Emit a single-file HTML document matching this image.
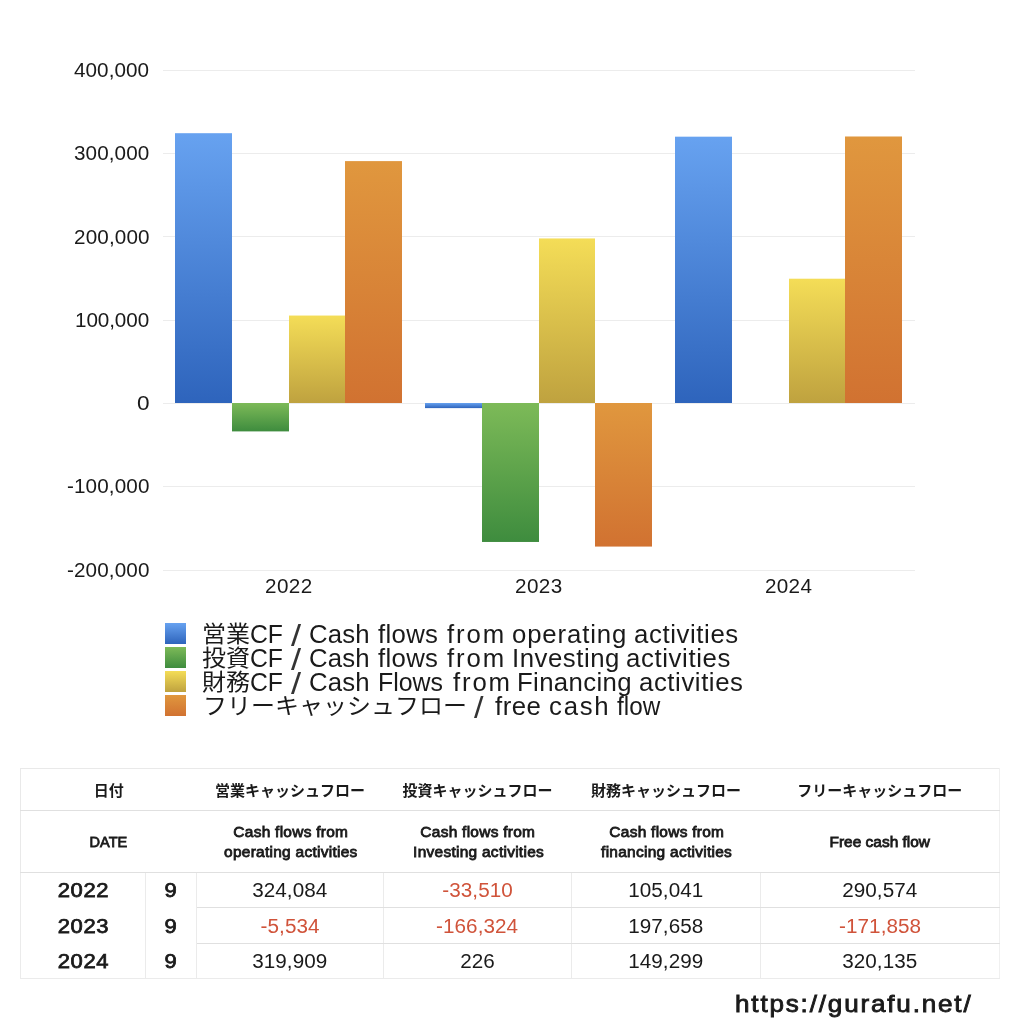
<!DOCTYPE html>
<html lang="ja">
<head>
<meta charset="utf-8">
<title>Cash Flow</title>
<style>
html,body{margin:0;padding:0;background:#fff;}
body{width:1024px;height:1024px;position:relative;overflow:hidden;font-family:"Liberation Sans","Noto Sans CJK JP",sans-serif;color:#1a1a1a;}
.t{position:absolute;white-space:nowrap;transform-origin:0 0;}
.ax{font-size:19.7px;line-height:24px;}
.lgL{font-size:25px;line-height:28px;}
.lgJ{font-size:22.8px;line-height:28px;}
.lgS{font-size:30px;line-height:28px;color:#333;}
.url{font-size:23.7px;line-height:28px;-webkit-text-stroke:0.85px #1a1a1a;}
.grid{position:absolute;left:163px;width:752px;height:1px;background:#ececec;}
.chart{position:absolute;left:0;top:0;width:1024px;height:620px;}
.b{background:linear-gradient(#67a2f0,#2e64bc);}
.g{background:linear-gradient(#7dba58,#3e8c3e);}
.y{background:linear-gradient(#f4dd57,#bfa23f);}
.o{background:linear-gradient(#e0973e,#d17231);}
.lg{position:absolute;left:165px;width:21px;height:21px;}
table{position:absolute;left:20px;top:768px;width:979px;border-collapse:collapse;table-layout:fixed;}
td,th{padding:0;text-align:center;vertical-align:middle;font-weight:normal;border:1px solid #e0e0e0;border-left-color:#ebebeb;border-right-color:#ebebeb;line-height:20px;}
td span,th span{display:inline-block;position:relative;white-space:nowrap;}
tr.h1 th{height:41px;font-size:15px;font-weight:bold;border-left:none;border-right:none;}
tr.h2 th{height:61px;font-size:15px;font-weight:bold;border-left:none;border-right:none;}
tr.h1 th:first-child,tr.h2 th:first-child{border-left:1px solid #e9e9e9;}
tr.h1 th:last-child,tr.h2 th:last-child{border-right:1px solid #f0f0f0;}
tr.d td:last-child{border-right-color:#f0f0f0;}
tr.h1 th{border-top-color:#e9e9e9;}
tr.d td{height:34px;font-size:19.7px;}
tr.d.r2 td{height:35px;}
tr.d td.yr{font-weight:bold;font-size:20px;border-top:none;border-bottom:none;}
tr.d:last-child td{border-bottom:1px solid #ebebeb;}
.hj{top:1px;}
.he{font-weight:normal;-webkit-text-stroke:0.8px #1a1a1a;transform:scaleX(1.03);letter-spacing:0.27px;margin-right:-0.27px;top:0px;left:0.6px;}
.hd{transform:scaleX(0.97);letter-spacing:0;margin-right:0;left:-0.5px;}
.hf{letter-spacing:0;margin-right:0;left:0;}
.n{transform:scaleX(1.05);letter-spacing:0.05px;margin-right:-0.05px;top:0px;}
.yb{font-weight:normal;-webkit-text-stroke:0.75px #1a1a1a;transform:scaleX(1.1);letter-spacing:0.6px;margin-right:-0.6px;top:0px;}
.neg{color:#d0533a;}
</style>
</head>
<body>
<div class="grid" style="top:70px"></div>
<div class="grid" style="top:153px"></div>
<div class="grid" style="top:236px"></div>
<div class="grid" style="top:320px"></div>
<div class="grid" style="top:403px"></div>
<div class="grid" style="top:486px"></div>
<div class="grid" style="top:570px"></div>

<span class="t ax" style="left:74.17px;top:58px;letter-spacing:0.05px;transform:scaleX(1.0500);">400,000</span>
<span class="t ax" style="left:73.91px;top:141px;letter-spacing:0.09px;transform:scaleX(1.0500);">300,000</span>
<span class="t ax" style="left:73.65px;top:225px;letter-spacing:0.13px;transform:scaleX(1.0500);">200,000</span>
<span class="t ax" style="left:75.02px;top:308px;letter-spacing:-0.09px;transform:scaleX(1.0500);">100,000</span>
<span class="t ax" style="left:136.74px;top:391px;transform:scaleX(1.1474);">0</span>
<span class="t ax" style="left:66.71px;top:474px;letter-spacing:0.11px;transform:scaleX(1.0500);">-100,000</span>
<span class="t ax" style="left:66.71px;top:558px;letter-spacing:0.11px;transform:scaleX(1.0500);">-200,000</span>

<svg class="chart" viewBox="0 0 1024 620" width="1024" height="620">
<defs>
<linearGradient id="gb" x1="0" y1="0" x2="0" y2="1"><stop offset="0" stop-color="#67a2f0"/><stop offset="1" stop-color="#2e64bc"/></linearGradient>
<linearGradient id="gg" x1="0" y1="0" x2="0" y2="1"><stop offset="0" stop-color="#7dba58"/><stop offset="1" stop-color="#3e8c3e"/></linearGradient>
<linearGradient id="gy" x1="0" y1="0" x2="0" y2="1"><stop offset="0" stop-color="#f4dd57"/><stop offset="1" stop-color="#bfa23f"/></linearGradient>
<linearGradient id="go" x1="0" y1="0" x2="0" y2="1"><stop offset="0" stop-color="#e0973e"/><stop offset="1" stop-color="#d17231"/></linearGradient>
</defs>
<rect x="175" y="133.2" width="57" height="269.8" fill="url(#gb)"/>
<rect x="232" y="403" width="57" height="28.4" fill="url(#gg)"/>
<rect x="289" y="315.55" width="56" height="87.45" fill="url(#gy)"/>
<rect x="345" y="161.1" width="57" height="241.9" fill="url(#go)"/>
<rect x="425" y="403" width="57" height="5.11" fill="url(#gb)"/>
<rect x="482" y="403" width="57" height="138.96" fill="url(#gg)"/>
<rect x="539" y="238.45" width="56" height="164.55" fill="url(#gy)"/>
<rect x="595" y="403" width="57" height="143.57" fill="url(#go)"/>
<rect x="675" y="136.68" width="57" height="266.32" fill="url(#gb)"/>
<rect x="789" y="278.71" width="56" height="124.29" fill="url(#gy)"/>
<rect x="845" y="136.49" width="57" height="266.51" fill="url(#go)"/>
</svg>

<span class="t ax" style="left:264.95px;top:574px;letter-spacing:0.38px;transform:scaleX(1.0500);">2022</span>
<span class="t ax" style="left:514.8px;top:574px;letter-spacing:0.38px;transform:scaleX(1.0500);">2023</span>
<span class="t ax" style="left:765.15px;top:574px;letter-spacing:0.3px;transform:scaleX(1.0500);">2024</span>

<div class="lg b" style="top:623px"></div>
<div class="lg g" style="top:647px"></div>
<div class="lg y" style="top:671px"></div>
<div class="lg o" style="top:695px"></div>
<div class="ll">
<span class="t lgJ" style="left:202px;top:620px;transform:scaleX(1.0526);">営業</span>
<span class="t lgL" style="left:249.86px;top:620px;transform:scaleX(0.9888);">CF</span>
<span class="t lgS" style="left:291.4px;top:622px;transform:scaleX(1.2121);">/</span>
<span class="t lgL" style="left:309.46px;top:620px;letter-spacing:0.11px;transform:scaleX(1.0300);">Cash</span>
<span class="t lgL" style="left:378.49px;top:620px;letter-spacing:0.32px;transform:scaleX(1.0300);">flows</span>
<span class="t lgL" style="left:447.24px;top:620px;letter-spacing:1.88px;transform:scaleX(1.0300);">from</span>
<span class="t lgL" style="left:512.22px;top:620px;letter-spacing:0.84px;transform:scaleX(1.0300);">operating</span>
<span class="t lgL" style="left:634.22px;top:620px;letter-spacing:0.59px;transform:scaleX(1.0300);">activities</span>
</div>
<div class="ll">
<span class="t lgJ" style="left:202px;top:644px;transform:scaleX(1.0526);">投資</span>
<span class="t lgL" style="left:249.86px;top:644px;transform:scaleX(0.9888);">CF</span>
<span class="t lgS" style="left:291.4px;top:646px;transform:scaleX(1.2121);">/</span>
<span class="t lgL" style="left:309.46px;top:644px;letter-spacing:0.11px;transform:scaleX(1.0300);">Cash</span>
<span class="t lgL" style="left:378.49px;top:644px;letter-spacing:0.32px;transform:scaleX(1.0300);">flows</span>
<span class="t lgL" style="left:447.24px;top:644px;letter-spacing:1.88px;transform:scaleX(1.0300);">from</span>
<span class="t lgL" style="left:512.18px;top:644px;letter-spacing:0.53px;transform:scaleX(1.0300);">Investing</span>
<span class="t lgL" style="left:625.97px;top:644px;letter-spacing:0.61px;transform:scaleX(1.0300);">activities</span>
</div>
<div class="ll">
<span class="t lgJ" style="left:202px;top:668px;transform:scaleX(1.0526);">財務</span>
<span class="t lgL" style="left:249.86px;top:668px;transform:scaleX(0.9888);">CF</span>
<span class="t lgS" style="left:291.4px;top:670px;transform:scaleX(1.2121);">/</span>
<span class="t lgL" style="left:309.46px;top:668px;letter-spacing:0.11px;transform:scaleX(1.0300);">Cash</span>
<span class="t lgL" style="left:377.51px;top:668px;transform:scaleX(0.9960);">Flows</span>
<span class="t lgL" style="left:452.74px;top:668px;letter-spacing:1.8px;transform:scaleX(1.0300);">from</span>
<span class="t lgL" style="left:516.69px;top:668px;letter-spacing:0.35px;transform:scaleX(1.0300);">Financing</span>
<span class="t lgL" style="left:638.97px;top:668px;letter-spacing:0.56px;transform:scaleX(1.0300);">activities</span>
</div>
<div class="ll">
<span class="t lgJ" style="left:203px;top:692px;transform:scaleX(1.0526);">フリーキャッシュフロー</span>
<span class="t lgS" style="left:473.6px;top:694px;transform:scaleX(1.1394);">/</span>
<span class="t lgL" style="left:495.24px;top:692px;letter-spacing:0.48px;transform:scaleX(1.0300);">free</span>
<span class="t lgL" style="left:549.47px;top:692px;letter-spacing:1.7px;transform:scaleX(1.0300);">cash</span>
<span class="t lgL" style="left:616.76px;top:692px;transform:scaleX(0.9718);">flow</span>
</div>

<table>
<colgroup><col style="width:125px"><col style="width:51px"><col style="width:187px"><col style="width:188px"><col style="width:189px"><col style="width:239px"></colgroup>
<tr class="h1"><th colspan="2"><span class="hj">日付</span></th><th><span class="hj">営業キャッシュフロー</span></th><th><span class="hj">投資キャッシュフロー</span></th><th><span class="hj">財務キャッシュフロー</span></th><th><span class="hj">フリーキャッシュフロー</span></th></tr>
<tr class="h2"><th colspan="2"><span class="he hd">DATE</span></th><th><span class="he">Cash flows from</span><br><span class="he">operating activities</span></th><th><span class="he">Cash flows from</span><br><span class="he">Investing activities</span></th><th><span class="he">Cash flows from</span><br><span class="he">financing activities</span></th><th><span class="he hf">Free cash flow</span></th></tr>
<tr class="d"><td class="yr"><span class="yb">2022</span></td><td class="yr"><span class="yb">9</span></td><td><span class="n">324,084</span></td><td class="neg"><span class="n">-33,510</span></td><td><span class="n">105,041</span></td><td><span class="n">290,574</span></td></tr>
<tr class="d r2"><td class="yr"><span class="yb">2023</span></td><td class="yr"><span class="yb">9</span></td><td class="neg"><span class="n">-5,534</span></td><td class="neg"><span class="n">-166,324</span></td><td><span class="n">197,658</span></td><td class="neg"><span class="n">-171,858</span></td></tr>
<tr class="d"><td class="yr"><span class="yb">2024</span></td><td class="yr"><span class="yb">9</span></td><td><span class="n">319,909</span></td><td><span class="n">226</span></td><td><span class="n">149,299</span></td><td><span class="n">320,135</span></td></tr>
</table>

<span class="t url" style="left:735.12px;top:990px;letter-spacing:1.66px;transform:scaleX(1.1000);">https://gurafu.net/</span>
</body>
</html>
